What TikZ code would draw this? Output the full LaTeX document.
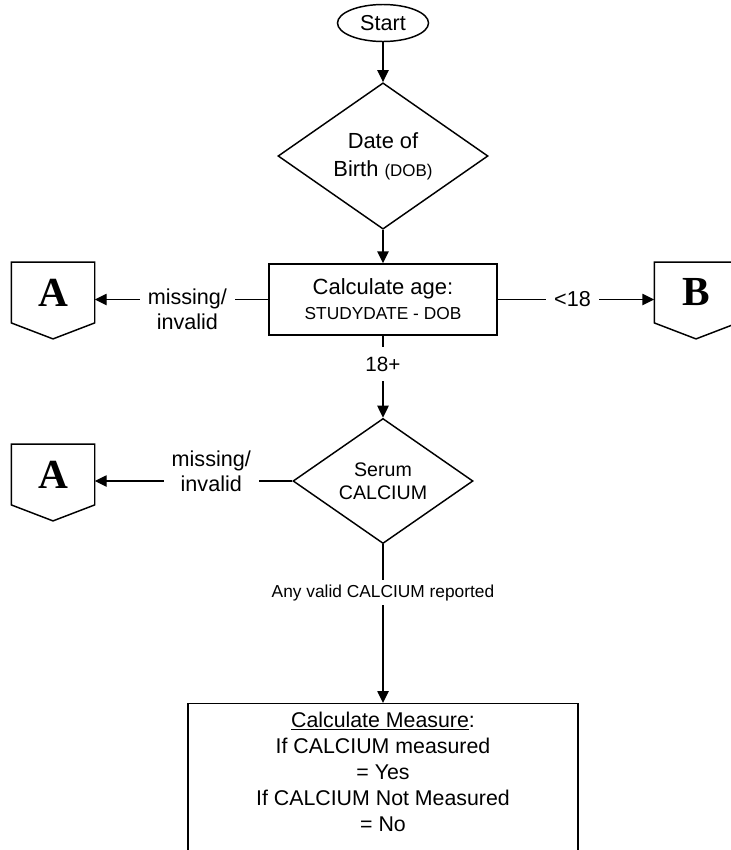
\documentclass[tikz,border=0pt]{standalone}
\usepackage{fontspec}
\setmainfont{Liberation Sans}
\newfontfamily\connfont{Liberation Serif}
\usetikzlibrary{shapes.geometric,arrows.meta}
\begin{document}
\begin{tikzpicture}[x=0.75pt,y=-0.75pt,
  line width=1.1pt,
  flow/.style={draw,-{Triangle[length=9pt,width=8.5pt]}},
  plain/.style={draw},
  termnode/.style={draw,ellipse,inner sep=0pt,minimum width=68.25pt,minimum height=27.75pt,
    font=\fontsize{16.2}{19}\selectfont},
  decide/.style={draw,diamond,inner sep=0pt,align=center},
  procbox/.style={draw,rectangle,inner sep=0pt,align=center},
  conn/.style={rectangle,inner sep=0pt,minimum width=61.5pt,minimum height=44.5pt,
    font=\connfont\bfseries\fontsize{31}{31}\selectfont},
  conndraw/.style={draw,line join=miter},
  hlabel/.style={fill=white,inner xsep=6pt,inner ysep=2pt,align=center,
    font=\fontsize{16.2}{18.75}\selectfont},
  vlabel/.style={fill=white,inner xsep=2pt,align=center}
]
\useasboundingbox (0,0) rectangle (731,850);
\clip (0,0) rectangle (731,850);

% nodes
\node[termnode] (start) at (383,23) {Start};
\node[decide,minimum width=157.5pt,minimum height=96.75pt,
  font=\fontsize{16.4}{21}\selectfont] (dob) at (383,156)
  {Date of\\Birth {\fontsize{12.7}{14}\selectfont(DOB)}};
\node[procbox,minimum width=171pt,minimum height=53.25pt,
  font=\fontsize{16.5}{18.75}\selectfont] (calc) at (383,299.5)
  {Calculate age:\\{\fontsize{13}{15}\selectfont STUDYDATE - DOB}};
\node[decide,minimum width=135pt,minimum height=88.5pt,
  font=\fontsize{14.7}{17.25}\selectfont] (serum) at (383,481)
  {Serum\\CALCIUM};
\node[draw,rectangle,inner sep=0pt,minimum width=292.5pt,minimum height=125pt,anchor=north]
  (measure) at (383,703) {};
\node[align=center,font=\fontsize{16}{19.5}\selectfont] (mtext) at (383,772)
  {\underline{Calculate Measure}:\\If CALCIUM measured\\= Yes\\If CALCIUM Not Measured\\= No};

% off-page connectors
\node[conn] (A1) at (53,292.5) {A};
\node[conn] (B1) at (696,292.5) {B};
\node[conn] (A2) at (53,474.5) {A};
\foreach \n in {A1,B1,A2}{
  \draw[conndraw] (\n.north west) -- (\n.north east) -- (\n.south east)
    -- ([yshift=-12pt]\n.south) -- (\n.south west) -- cycle;
}

% connectors
\draw[flow] (start) -- (dob);
\draw[flow] (dob) -- (calc);
\draw[flow] (calc.west) -- node[hlabel,pos=0.466,yshift=-7.5pt] {missing/\\invalid} (calc.west -| A1.east);
\draw[flow] (calc.east) -- node[hlabel,pos=0.478] {<18} (calc.east -| B1.west);
\draw[flow] (calc.south) -- node[vlabel,pos=0.345,inner ysep=7.5pt,font=\fontsize{15.5}{18}\selectfont] {18+} (serum.north);
\draw[flow] (serum.west) -- node[hlabel,pos=0.41,yshift=7.5pt] {missing/\\invalid} (serum.west -| A2.east);
\draw[flow] (serum.south) -- node[vlabel,pos=0.304,inner ysep=3.2pt,font=\fontsize{13}{15}\selectfont] {Any valid CALCIUM reported} (measure.north);
\end{tikzpicture}
\end{document}
